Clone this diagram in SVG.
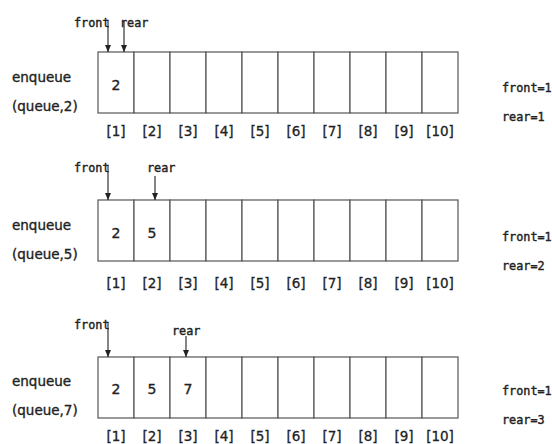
<svg xmlns="http://www.w3.org/2000/svg" width="552" height="444" viewBox="0 0 552 444">
<style>
.cell{fill:#fff;stroke:#555;stroke-width:1.2}
.lbl{font-family:"DejaVu Sans",sans-serif;font-size:13.5px;fill:#222;stroke:#222;stroke-width:0.35}
.num{font-family:"DejaVu Sans",sans-serif;font-size:14px;fill:#222;stroke:#222;stroke-width:0.35;text-anchor:middle}
.idx{font-family:"DejaVu Sans",sans-serif;font-size:13.5px;fill:#222;stroke:#222;stroke-width:0.3;text-anchor:middle}
.mono{font-family:"DejaVu Sans Mono",monospace;font-size:11.8px;fill:#222;stroke:#222;stroke-width:0.4}
.arr{stroke:#222;stroke-width:1.1;fill:none;marker-end:url(#ah)}
</style>
<defs>
<marker id="ah" viewBox="0 0 7 6" refX="7" refY="3" markerWidth="7" markerHeight="6" markerUnits="userSpaceOnUse" orient="auto">
<path d="M0,0 L7,3 L0,6 Z" fill="#222"/>
</marker>
<g id="cells">
<rect class="cell" x="98" y="0" width="36" height="61"/>
<rect class="cell" x="134" y="0" width="36" height="61"/>
<rect class="cell" x="170" y="0" width="36" height="61"/>
<rect class="cell" x="206" y="0" width="36" height="61"/>
<rect class="cell" x="242" y="0" width="36" height="61"/>
<rect class="cell" x="278" y="0" width="36" height="61"/>
<rect class="cell" x="314" y="0" width="36" height="61"/>
<rect class="cell" x="350" y="0" width="36" height="61"/>
<rect class="cell" x="386" y="0" width="36" height="61"/>
<rect class="cell" x="422" y="0" width="36" height="61"/>
</g>
<g id="idxrow">
<text class="idx" x="116" y="0">[1]</text>
<text class="idx" x="152" y="0">[2]</text>
<text class="idx" x="188" y="0">[3]</text>
<text class="idx" x="224" y="0">[4]</text>
<text class="idx" x="260" y="0">[5]</text>
<text class="idx" x="296" y="0">[6]</text>
<text class="idx" x="332" y="0">[7]</text>
<text class="idx" x="368" y="0">[8]</text>
<text class="idx" x="404" y="0">[9]</text>
<text class="idx" x="440" y="0">[10]</text>
</g>
</defs>

<g id="step1">
<text class="lbl" x="12" y="82">enqueue</text>
<text class="lbl" x="12" y="111">(queue,2)</text>
<use href="#cells" y="52"/>
<text class="num" x="116" y="90">2</text>
<use href="#idxrow" y="136"/>
<text class="mono" x="74" y="27">front</text>
<text class="mono" x="120" y="27">rear</text>
<text class="mono" x="502" y="92">front=1</text>
<text class="mono" x="502" y="121">rear=1</text>
</g>

<g id="step2">
<text class="lbl" x="12" y="230">enqueue</text>
<text class="lbl" x="12" y="259">(queue,5)</text>
<use href="#cells" y="200"/>
<text class="num" x="116" y="238">2</text>
<text class="num" x="152" y="238">5</text>
<use href="#idxrow" y="288"/>
<text class="mono" x="74" y="172">front</text>
<text class="mono" x="147" y="172">rear</text>
<text class="mono" x="502" y="241">front=1</text>
<text class="mono" x="502" y="270">rear=2</text>
</g>

<g id="step3">
<text class="lbl" x="12" y="386">enqueue</text>
<text class="lbl" x="12" y="415">(queue,7)</text>
<use href="#cells" y="357"/>
<text class="num" x="116" y="394">2</text>
<text class="num" x="152" y="394">5</text>
<text class="num" x="188" y="394">7</text>
<use href="#idxrow" y="441"/>
<text class="mono" x="74" y="329">front</text>
<text class="mono" x="172" y="335">rear</text>
<text class="mono" x="502" y="395">front=1</text>
<text class="mono" x="502" y="424">rear=3</text>
</g>

<g id="connectors">
<line class="arr" x1="108" y1="21" x2="108" y2="52"/>
<line class="arr" x1="124" y1="21" x2="124" y2="52"/>
<line class="arr" x1="108" y1="166" x2="108" y2="200"/>
<line class="arr" x1="155" y1="176" x2="155" y2="200"/>
<line class="arr" x1="108" y1="323" x2="108" y2="357"/>
<line class="arr" x1="186" y1="336" x2="186" y2="357"/>
</g>
</svg>
